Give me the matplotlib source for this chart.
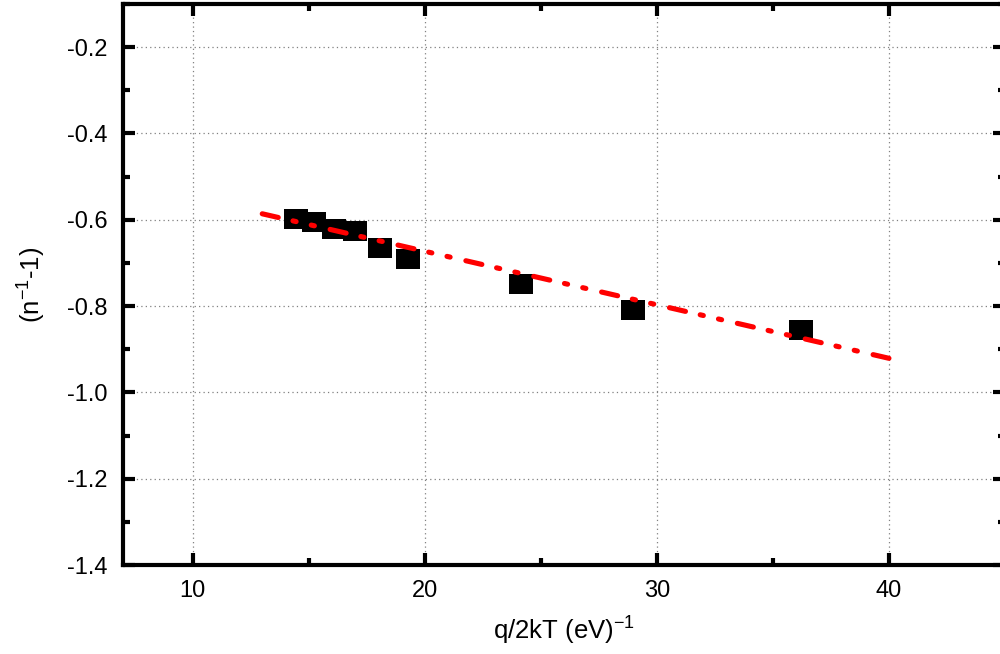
import numpy as np
import matplotlib
matplotlib.use('Agg')
import matplotlib.pyplot as plt
from matplotlib.ticker import MultipleLocator

plt.rcParams['font.family'] = ['Liberation Sans', 'DejaVu Sans']
plt.rcParams['mathtext.default'] = 'regular'
plt.rcParams['lines.scale_dashes'] = False

# measured points, q/2kT (eV^-1) vs (1/n - 1)
q2kT = [14.47, 15.25, 16.11, 17.01, 18.09, 19.30, 24.14, 28.99, 36.23]
inv_n_minus_1 = [-0.598, -0.605, -0.622, -0.626, -0.666, -0.691, -0.749, -0.810, -0.856]

# linear fit  y = a + b*x, drawn over this x range
fit_a = -0.425
fit_b = -0.0124
fit_x = [13.0, 40.0]

fig = plt.figure(figsize=(10, 6.54), dpi=100)
ax = fig.add_axes([0.123, 0.136, 0.882, 0.858])

# slightly wide square, as in the original export
box = [(-1.15, -1), (1.15, -1), (1.15, 1), (-1.15, 1), (-1.15, -1)]
ax.plot(q2kT, inv_n_minus_1, linestyle='none', marker=box, markersize=16.6,
        color='black', markeredgewidth=0, zorder=3)

# dash-dot-dot fit line
fx = np.array(fit_x)
ax.plot(fx, fit_a + fit_b * fx, color='red', lw=3.7,
        dashes=(11.8, 10.9, 2.3, 11.2, 2.3, 11.65),
        dash_capstyle='round', zorder=4)

ax.set_xlim(7, 45)
ax.set_ylim(-1.4, -0.1)
ax.xaxis.set_major_locator(MultipleLocator(10))
ax.xaxis.set_minor_locator(MultipleLocator(5))
ax.yaxis.set_major_locator(MultipleLocator(0.2))
ax.yaxis.set_minor_locator(MultipleLocator(0.1))
ax.yaxis.set_major_formatter(plt.FuncFormatter(lambda v, p: '%.1f' % v))

ax.grid(True, which='major', color='#808080', lw=0.9, dashes=(0.9, 2.3))
ax.set_axisbelow(True)

for s in ax.spines.values():
    s.set_linewidth(3)
ax.tick_params(which='both', direction='in', top=True, right=True, width=3,
               labelsize=17, pad=11)
ax.tick_params(which='major', length=8.6)
ax.tick_params(which='minor', length=5)

ax.set_xlabel('q/2kT (eV)$^{-1}$', fontsize=18.5, labelpad=9)
ax.set_ylabel('(n$^{-1}$-1)', fontsize=18.5, labelpad=14)

fig.savefig('out.png', dpi=100)
